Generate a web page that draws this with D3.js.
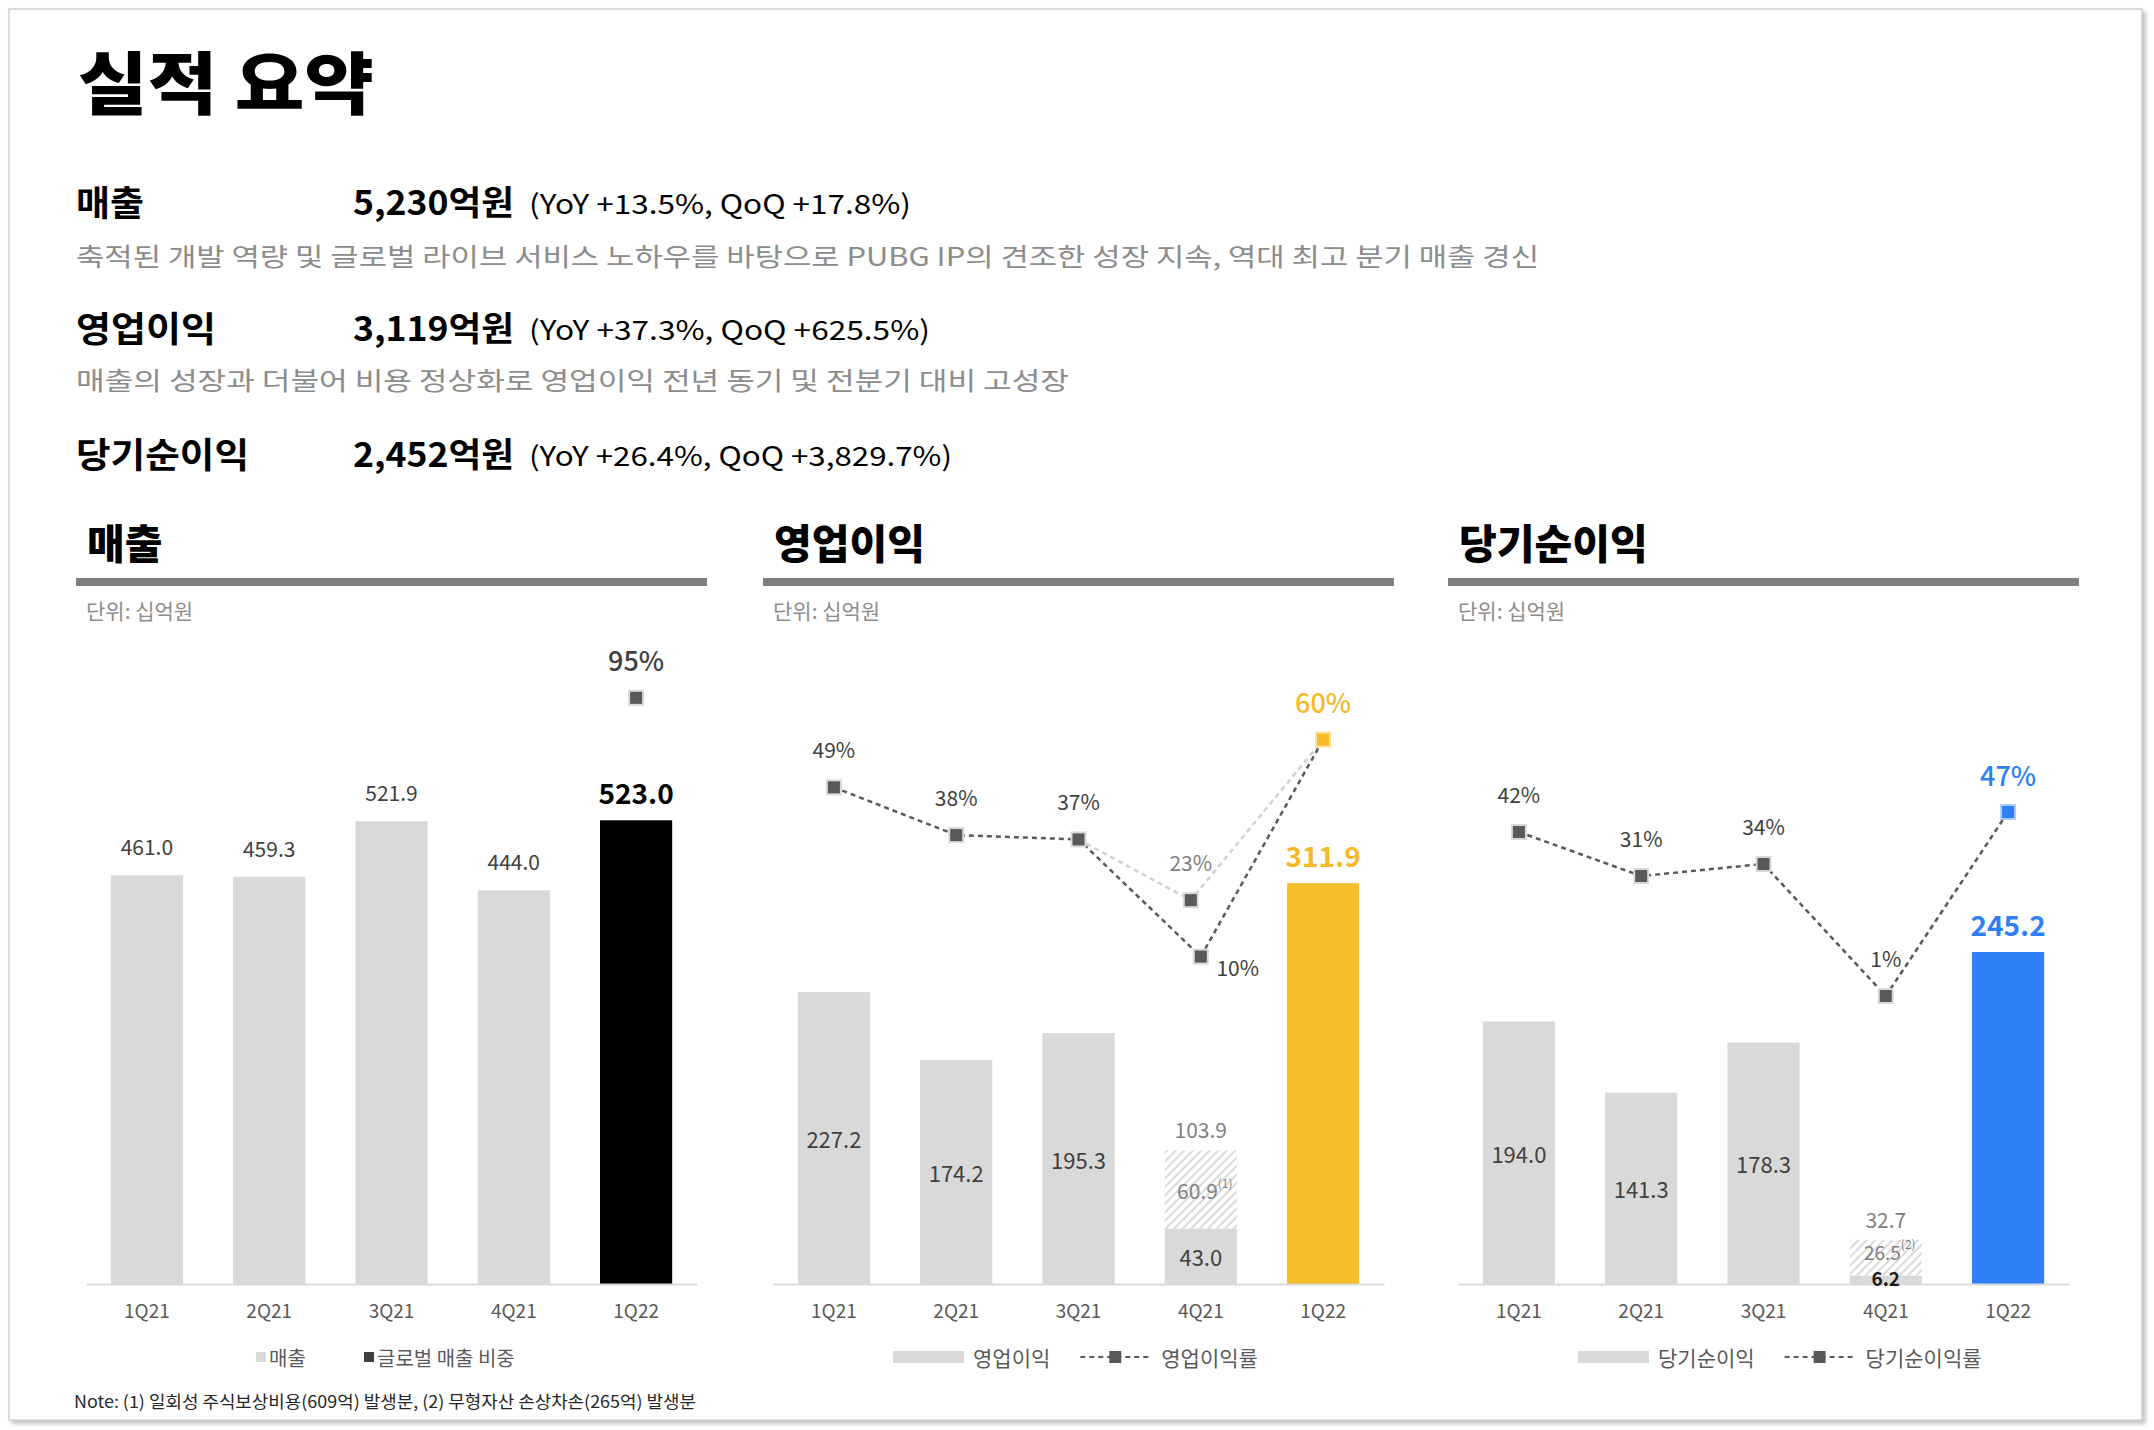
<!DOCTYPE html>
<html>
<head>
<meta charset="utf-8">
<script src="https://d3js.org/d3.v7.min.js"></script>
<style>
  body { margin: 0; background: #ffffff; }
  svg { display: block; }
  text { font-family: "Noto Sans CJK KR", "Noto Sans", sans-serif; }
</style>
</head>
<body>
<div id="chart"></div>
<script>
var quarters = ["1Q21", "2Q21", "3Q21", "4Q21", "1Q22"];

// 매출 (십억원) / 글로벌 매출 비중 (%)
var revenue = [461.0, 459.3, 521.9, 444.0, 523.0];
var globalShare = [null, null, null, null, 95];

// 영업이익 / 일회성 비용분 / 영업이익률 / 일회성 제외 이익률
var opIncome = [227.2, 174.2, 195.3, 43.0, 311.9];
var opOneOff = [0, 0, 0, 60.9, 0];
var opMargin = [49, 38, 37, 10, 60];
var opMarginAdj = [null, null, 37, 23, 60];

// 당기순이익 / 손상차손분 / 당기순이익률
var netIncome = [194.0, 141.3, 178.3, 6.2, 245.2];
var netOneOff = [0, 0, 0, 26.5, 0];
var netMargin = [42, 31, 34, 1, 47];

// 상단 요약
var summaryLabels = ["매출", "영업이익", "당기순이익"];
var summaryValues = ["5,230억원", "3,119억원", "2,452억원"];
var summaryChanges = ["(YoY +13.5%, QoQ +17.8%)", "(YoY +37.3%, QoQ +625.5%)", "(YoY +26.4%, QoQ +3,829.7%)"];
var summaryDescs = ["축적된 개발 역량 및 글로벌 라이브 서비스 노하우를 바탕으로 PUBG IP의 견조한 성장 지속, 역대 최고 분기 매출 경신",
                    "매출의 성장과 더불어 비용 정상화로 영업이익 전년 동기 및 전분기 대비 고성장"];

var width = 2154, height = 1430;
var base = 1284;

var svg = d3.select("#chart").append("svg")
    .attr("width", width)
    .attr("height", height);

var defs = svg.append("defs");
var shadow = defs.append("filter").attr("id", "shadow")
    .attr("x", "-2%").attr("y", "-2%").attr("width", "104%").attr("height", "104%");
shadow.append("feDropShadow").attr("dx", 3).attr("dy", 3).attr("stdDeviation", 2)
    .attr("flood-color", "#9a9a9a").attr("flood-opacity", 0.6);

var hatch = defs.append("pattern").attr("id", "hatch")
    .attr("patternUnits", "userSpaceOnUse")
    .attr("width", 6).attr("height", 6)
    .attr("patternTransform", "rotate(45)");
hatch.append("rect").attr("width", 6).attr("height", 6).attr("fill", "#ffffff");
hatch.append("rect").attr("width", 2).attr("height", 6).attr("fill", "#dadada");

// 슬라이드 테두리
svg.append("rect")
    .attr("x", 9).attr("y", 9)
    .attr("width", 2133).attr("height", 1411)
    .attr("fill", "#ffffff")
    .attr("stroke", "#d0d0d0")
    .attr("stroke-width", 1.5)
    .attr("filter", "url(#shadow)");

function fitWidth(sel, w) {
    var cur = sel.node().getComputedTextLength();
    if (Math.abs(cur - w) > 2) {
        sel.attr("textLength", w).attr("lengthAdjust", "spacingAndGlyphs");
    }
}

// 제목
var title = svg.append("text")
    .attr("x", 78).attr("y", 79)
    .attr("dominant-baseline", "central")
    .attr("font-size", 68).attr("font-weight", 900)
    .attr("fill", "#000")
    .text("실적 요약");
fitWidth(title, 296);

var rowY = [200, 326, 452];
var descY = [255, 379];
var labelW = [68, 140, 173];
var changeEnd = [911, 930, 952];
var descW = [1463, 993];

for (var i = 0; i < 3; i++) {
    var l = svg.append("text")
        .attr("x", 76).attr("y", rowY[i])
        .attr("dominant-baseline", "central")
        .attr("font-size", 35).attr("font-weight", 700)
        .text(summaryLabels[i]);
    fitWidth(l, labelW[i]);

    var v = svg.append("text")
        .attr("x", 353).attr("y", rowY[i])
        .attr("dominant-baseline", "central")
        .attr("font-size", 34).attr("font-weight", 700)
        .text(summaryValues[i]);
    fitWidth(v, 161);

    var c = svg.append("text")
        .attr("x", 529).attr("y", rowY[i] + 2)
        .attr("dominant-baseline", "central")
        .attr("font-size", 27)
        .text(summaryChanges[i]);
    fitWidth(c, changeEnd[i] - 529);

    if (i < 2) {
        var d = svg.append("text")
            .attr("x", 76).attr("y", descY[i])
            .attr("dominant-baseline", "central")
            .attr("font-size", 25)
            .attr("fill", "#8c8c8c")
            .text(summaryDescs[i]);
        fitWidth(d, descW[i]);
    }
}

function marker(g, cx, cy, fill, edge) {
    g.append("rect")
        .attr("x", cx - 7).attr("y", cy - 7)
        .attr("width", 14).attr("height", 14)
        .attr("fill", fill)
        .attr("stroke", edge)
        .attr("stroke-width", 2);
}

function drawPanel(opt) {
    var x0 = opt.x0;
    var g = svg.append("g");

    g.append("text")
        .attr("x", x0 + 1).attr("y", 541)
        .attr("dominant-baseline", "central")
        .attr("font-size", 41).attr("font-weight", 900)
        .attr("fill", "#000")
        .text(opt.title);

    g.append("rect")
        .attr("x", x0 - 10).attr("y", 578)
        .attr("width", 631).attr("height", 8)
        .attr("fill", "#808080");

    g.append("text")
        .attr("x", x0).attr("y", 610)
        .attr("dominant-baseline", "central")
        .attr("font-size", 21)
        .attr("fill", "#8c8c8c")
        .text("단위: 십억원");

    var x = d3.scaleBand().domain(quarters)
        .range([x0, x0 + 611])
        .paddingInner(0.41).paddingOuter(0.203);
    var y = d3.scaleLinear().domain(opt.yDomain).range([base, opt.yTop]);
    var yp = d3.scaleLinear().domain([0, 100]).range(opt.pctRange);

    var rows = quarters.map(function (q, i) {
        return {q: q, v: opt.values[i], extra: opt.extra ? opt.extra[i] : 0, last: i == quarters.length - 1};
    });

    // 일회성 항목 (빗금)
    g.selectAll(".hatch").data(rows.filter(function (d) { return d.extra > 0; }))
        .enter().append("rect")
        .attr("x", function (d) { return x(d.q); })
        .attr("y", function (d) { return y(d.v + d.extra); })
        .attr("width", x.bandwidth())
        .attr("height", function (d) { return y(d.v) - y(d.v + d.extra); })
        .attr("fill", "url(#hatch)");

    g.selectAll(".bar").data(rows)
        .enter().append("rect")
        .attr("x", function (d) { return x(d.q); })
        .attr("y", function (d) { return y(d.v); })
        .attr("width", x.bandwidth())
        .attr("height", function (d) { return base - y(d.v); })
        .attr("fill", function (d) { return d.last ? opt.color : "#d9d9d9"; });

    // x축
    var axis = g.append("g")
        .attr("transform", "translate(0," + base + ")")
        .call(d3.axisBottom(x).tickSize(0).tickPadding(21));
    axis.select(".domain").attr("stroke", "#d9d9d9").attr("stroke-width", 2);
    axis.selectAll("text")
        .attr("font-size", 19)
        .attr("fill", "#595959")
        .style("font-family", "'Noto Sans CJK KR', sans-serif");

    // 값 라벨
    rows.forEach(function (d) {
        var cx = x(d.q) + x.bandwidth() / 2;
        if (d.last) {
            g.append("text")
                .attr("x", cx).attr("y", y(d.v) - 28)
                .attr("text-anchor", "middle").attr("dominant-baseline", "central")
                .attr("font-size", 28).attr("font-weight", 700)
                .attr("fill", opt.lastText)
                .text(d.v.toFixed(1));
        } else if (opt.inside) {
            var h = base - y(d.v);
            var small = h < 30;
            var cy = small ? base - 7 : (y(d.v) + base) / 2;
            g.append("text")
                .attr("x", cx).attr("y", cy)
                .attr("text-anchor", "middle").attr("dominant-baseline", "central")
                .attr("font-size", small ? 19 : 22)
                .attr("font-weight", small ? 700 : 400)
                .attr("fill", small ? "#1a1a1a" : "#404040")
                .text(d.v.toFixed(1));
            if (d.extra > 0) {
                var mid = (y(d.v + d.extra) + y(d.v)) / 2 - (small ? 7 : 0);
                var t = g.append("text")
                    .attr("x", cx + 4).attr("y", mid)
                    .attr("text-anchor", "middle").attr("dominant-baseline", "central")
                    .attr("font-size", small ? 19 : 21)
                    .attr("fill", "#808080");
                t.append("tspan").text(d.extra.toFixed(1));
                t.append("tspan").attr("font-size", 12).attr("dy", -8).text(opt.noteMark);
                g.append("text")
                    .attr("x", cx).attr("y", y(d.v + d.extra) - 21)
                    .attr("text-anchor", "middle").attr("dominant-baseline", "central")
                    .attr("font-size", 21)
                    .attr("fill", "#808080")
                    .text((d.v + d.extra).toFixed(1));
            }
        } else {
            g.append("text")
                .attr("x", cx).attr("y", y(d.v) - 29)
                .attr("text-anchor", "middle").attr("dominant-baseline", "central")
                .attr("font-size", 21)
                .attr("fill", "#404040")
                .text(d.v.toFixed(1));
        }
    });

    // 이익률 선
    var pts = quarters.map(function (q, i) {
        return {q: q, p: opt.pct[i], x: x(q) + x.bandwidth() / 2, last: i == quarters.length - 1};
    });
    var line = d3.line()
        .defined(function (d) { return d.p != null; })
        .x(function (d) { return d.x; })
        .y(function (d) { return yp(d.p); });

    if (opt.pctAdj) {
        var adj = quarters.map(function (q, i) {
            return {q: q, p: opt.pctAdj[i], x: x(q) + x.bandwidth() / 2 - (i == 3 ? 10 : 0)};
        });
        g.append("path").datum(adj)
            .attr("d", line)
            .attr("fill", "none")
            .attr("stroke", "#d0d0d0")
            .attr("stroke-width", 2.5)
            .attr("stroke-dasharray", "5,4");
        var a = adj[3];
        marker(g, a.x, yp(a.p), "#595959", "#d9d9d9");
        g.append("text")
            .attr("x", a.x).attr("y", yp(a.p) - 38)
            .attr("text-anchor", "middle").attr("dominant-baseline", "central")
            .attr("font-size", 21).attr("fill", "#808080")
            .text(a.p + "%");
    }

    if (opt.drawLine) {
        g.append("path").datum(pts)
            .attr("d", line)
            .attr("fill", "none")
            .attr("stroke", "#595959")
            .attr("stroke-width", 2.5)
            .attr("stroke-dasharray", "5,4");
    }

    pts.forEach(function (d, i) {
        if (d.p == null) return;
        var cy = yp(d.p);
        marker(g, d.x, cy, d.last ? opt.markColor : "#595959", d.last ? opt.markEdge : "#d9d9d9");
        var lx = d.x, ly = cy - 38;
        if (opt.pctAdj && i == 3) { lx = d.x + 37; ly = cy + 10; }
        g.append("text")
            .attr("x", lx).attr("y", ly)
            .attr("text-anchor", "middle").attr("dominant-baseline", "central")
            .attr("font-size", d.last ? 27 : 21)
            .attr("font-weight", d.last ? 500 : 400)
            .attr("fill", d.last ? opt.pctText : "#404040")
            .text(d.p + "%");
    });

    // 범례
    var ly0 = 1357;
    if (opt.legendSquares) {
        var lx0 = x0 + 170;
        g.append("rect").attr("x", lx0).attr("y", ly0 - 5).attr("width", 10).attr("height", 10).attr("fill", "#d9d9d9");
        g.append("text").attr("x", lx0 + 13).attr("y", ly0)
            .attr("dominant-baseline", "central").attr("font-size", 20).attr("fill", "#595959")
            .text(opt.legend[0]);
        var lx1 = lx0 + 108;
        g.append("rect").attr("x", lx1).attr("y", ly0 - 5).attr("width", 10).attr("height", 10).attr("fill", "#404040");
        g.append("text").attr("x", lx1 + 13).attr("y", ly0)
            .attr("dominant-baseline", "central").attr("font-size", 20).attr("fill", "#595959")
            .text(opt.legend[1]);
    } else {
        var rx = x0 + 120;
        g.append("rect").attr("x", rx).attr("y", ly0 - 6).attr("width", 71).attr("height", 12).attr("fill", "#d9d9d9");
        var lt = g.append("text").attr("x", rx + 80).attr("y", ly0)
            .attr("dominant-baseline", "central").attr("font-size", 21).attr("fill", "#595959")
            .text(opt.legend[0]);
        var dx = rx + 80 + lt.node().getComputedTextLength() + 30;
        g.append("line").attr("x1", dx).attr("x2", dx + 71).attr("y1", ly0).attr("y2", ly0)
            .attr("stroke", "#595959").attr("stroke-width", 2).attr("stroke-dasharray", "5,4");
        g.append("rect").attr("x", dx + 29).attr("y", ly0 - 6).attr("width", 12).attr("height", 12).attr("fill", "#595959");
        g.append("text").attr("x", dx + 81).attr("y", ly0)
            .attr("dominant-baseline", "central").attr("font-size", 21).attr("fill", "#595959")
            .text(opt.legend[1]);
    }
}

drawPanel({
    x0: 86, title: "매출",
    values: revenue, yDomain: [0, 600], yTop: 752,
    pct: globalShare, pctRange: [1284, 667], drawLine: false,
    color: "#000000", lastText: "#000000",
    markColor: "#595959", markEdge: "#d9d9d9", pctText: "#404040",
    inside: false, legendSquares: true,
    legend: ["매출", "글로벌 매출 비중"]
});

drawPanel({
    x0: 773, title: "영업이익",
    values: opIncome, extra: opOneOff, noteMark: "(1)",
    yDomain: [0, 400], yTop: 770,
    pct: opMargin, pctAdj: opMarginAdj, pctRange: [1000, 566], drawLine: true,
    color: "#f5bd2a", lastText: "#f5b92a",
    markColor: "#f5b92a", markEdge: "#fbe3a0", pctText: "#f5b92a",
    inside: true, legendSquares: false,
    legend: ["영업이익", "영업이익률"]
});

drawPanel({
    x0: 1458, title: "당기순이익",
    values: netIncome, extra: netOneOff, noteMark: "(2)",
    yDomain: [0, 400], yTop: 742.4,
    pct: netMargin, pctRange: [1000, 600], drawLine: true,
    color: "#2f80f7", lastText: "#2f80f7",
    markColor: "#2f80f7", markEdge: "#a9cafb", pctText: "#2f80f7",
    inside: true, legendSquares: false,
    legend: ["당기순이익", "당기순이익률"]
});

// 주석
var note = svg.append("text")
    .attr("x", 74).attr("y", 1400)
    .attr("dominant-baseline", "central")
    .attr("font-size", 17)
    .attr("fill", "#262626")
    .text("Note: (1) 일회성 주식보상비용(609억) 발생분, (2) 무형자산 손상차손(265억) 발생분");
fitWidth(note, 622);
</script>
</body>
</html>
